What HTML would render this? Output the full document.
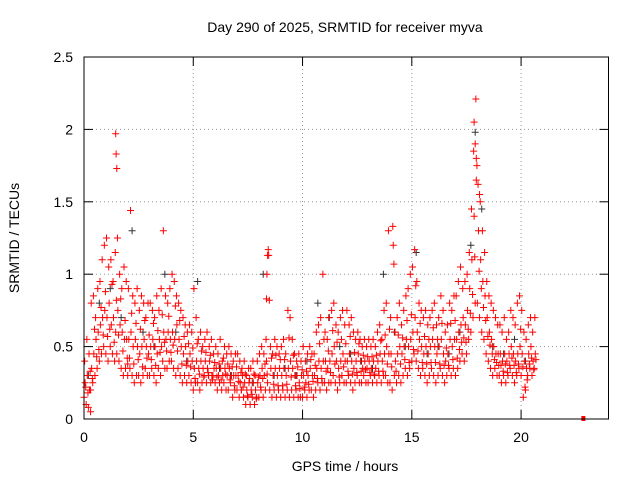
<!DOCTYPE html>
<html><head><meta charset="utf-8">
<style>
body{margin:0;background:#fff;}
svg{display:block;font-family:"Liberation Sans",sans-serif;}
</style></head>
<body>
<svg id="chart" width="640" height="480" viewBox="0 0 640 480">
<rect width="640" height="480" fill="#fff"/>
<text x="345" y="32" font-size="14" text-anchor="middle">Day 290 of 2025, SRMTID for receiver myva</text>
<text x="345" y="471" font-size="14" text-anchor="middle">GPS time / hours</text>
<text transform="translate(19,238) rotate(-90)" font-size="14" text-anchor="middle">SRMTID / TECUs</text>
<g id="grid"></g>
<g id="marks"></g>
<rect x="84" y="57" width="524.5" height="362" fill="none" stroke="#000" stroke-width="1"/>
<g id="ticks"></g>
</svg>
<script>
const xTicks=[0,5,10,15,20];
const yTicks=[0,0.5,1,1.5,2,2.5];
const yTickLabels=["0","0.5","1","1.5","2","2.5"];
const slotStart=0, slotStep=0.1;
const lowVals=[.15,.10,.08,.20,.25,.30,.35,.40,.45,.50,
.45,.40,.50,.45,.40,.45,.40,.35,.30,.35,
.30,.35,.30,.25,.30,.30,.25,.30,.35,.30,
.30,.35,.30,.25,.35,.30,.40,.35,.35,.40,
.40,.35,.30,.35,.30,.25,.30,.25,.30,.25,
.20,.25,.25,.20,.25,.30,.25,.30,.25,.30,
.25,.20,.25,.20,.25,.20,.20,.25,.15,.20,
.20,.15,.20,.15,.10,.15,.10,.15,.10,.15,
.15,.20,.15,.20,.25,.20,.15,.20,.15,.20,
.15,.20,.15,.20,.15,.20,.15,.20,.15,.15,
.15,.20,.15,.20,.20,.15,.20,.25,.20,.25,
.25,.20,.25,.25,.30,.25,.20,.25,.30,.25,
.25,.30,.25,.20,.25,.30,.25,.25,.30,.25,
.25,.30,.25,.30,.25,.30,.25,.30,.30,.25,
.25,.20,.30,.25,.30,.25,.30,.35,.30,.35,
.40,.45,.40,.35,.30,.35,.30,.25,.30,.35,
.30,.25,.30,.35,.30,.25,.30,.35,.30,.35,
.30,.35,.40,.45,.40,.45,.55,.60,.70,.80,
.80,.70,.60,.55,.45,.40,.35,.30,.35,.30,
.30,.25,.30,.25,.30,.35,.30,.25,.30,.35,
.30,.15,.20,.30,.35,.30,.35];
const midVals=[.25,.30,.20,.35,.45,.55,.60,.65,.70,.75,
.70,.80,.65,.70,.60,.75,.65,.60,.55,.55,
.55,.60,.50,.55,.50,.45,.50,.55,.50,.45,
.50,.55,.50,.45,.55,.50,.60,.55,.60,.55,
.60,.55,.65,.55,.50,.45,.50,.40,.45,.40,
.35,.40,.35,.40,.35,.40,.35,.40,.30,.35,
.35,.30,.35,.30,.35,.30,.35,.30,.30,.30,
.30,.25,.30,.25,.20,.25,.20,.25,.20,.25,
.30,.35,.30,.40,1.13,.35,.30,.35,.30,.35,
.30,.35,.30,.35,.40,.35,.30,.30,.25,.30,
.30,.25,.30,.35,.30,.30,.35,.40,.35,.40,
.40,.35,.40,.45,.50,.40,.35,.40,.45,.40,
.40,.45,.40,.35,.40,.45,.40,.35,.40,.35,
.40,.35,.40,.35,.40,.45,.40,.45,.50,.45,
.45,1.20,.40,.45,.50,.45,.50,.55,.50,.55,
.60,.70,.60,.55,.50,.45,.50,.45,.50,.55,
.50,.45,.50,.55,.45,.40,.45,.55,.50,.55,
.55,.60,.65,.70,.65,.75,.90,1.10,1.40,1.65,
1.30,1.10,.95,.85,.70,.60,.55,.50,.45,.45,
.45,.40,.45,.40,.45,.50,.45,.40,.45,.50,
.45,.40,.35,.45,.50,.40,.45];
const highVals=[.40,.55,.45,.80,.85,.70,.90,.95,1.10,1.20,
1.25,1.05,1.10,.95,1.15,1.25,1.00,.90,1.05,.95,
.90,1.44,.85,.80,.90,.75,.85,.80,.70,.80,
.80,.75,.70,.85,.75,.90,1.30,.85,.80,.90,
1.00,.95,.85,.80,.75,.70,.65,.60,.65,.60,
.90,.70,.55,.60,.50,.55,.60,.50,.55,.45,
.50,.45,.55,.40,.50,.45,.50,.45,.40,.45,
.45,.40,.35,.40,.30,.35,.35,.40,.30,.40,
.45,.50,.45,.55,1.17,.50,.45,.55,.50,.45,
.50,.55,.45,.75,.70,.55,.45,.40,.45,.40,
.50,.40,.45,.50,.45,.45,.60,.65,.70,1.00,
.60,.55,.70,.75,.80,.65,.60,.70,.75,.65,
.75,.65,.70,.60,.55,.60,.55,.50,.55,.50,
.55,.50,.55,.50,.60,.65,.55,.75,.80,1.30,
.70,1.33,.60,.70,.80,.65,.75,.85,.90,1.00,
1.05,1.17,.95,.80,.75,.70,.75,.65,.70,.75,
.80,.65,.70,.85,.75,.60,.65,.80,.75,.85,
.85,.95,1.05,.90,.95,1.00,1.15,1.45,1.85,2.21,
1.62,1.50,1.30,1.15,.95,.85,.80,.75,.70,.65,
.65,.60,.70,.55,.60,.75,.70,.65,.80,.85,
.75,.60,.55,.65,.70,.60,.70];
const extraVals=[.22,.18,.33,.28,.62,.43,.48,.77,.58,.88,
.57,.62,.93,.53,.82,.58,.83,.47,.68,.42,
.42,.73,.38,.66,.41,.62,.36,.68,.42,.58,
.41,.66,.37,.61,.46,.72,.53,.47,.71,.46,
.51,.78,.47,.68,.38,.57,.37,.52,.36,.49,
.28,.52,.31,.47,.29,.46,.32,.44,.27,.39,
.29,.38,.27,.42,.31,.38,.27,.36,.23,.36,
.26,.32,.22,.31,.16,.28,.17,.31,.14,.29,
.22,.28,.38,.31,.82,.42,.24,.44,.23,.41,
.23,.41,.24,.56,.29,.44,.23,.36,.21,.34,
.22,.33,.24,.41,.26,.37,.28,.52,.28,.55,
.33,.47,.32,.61,.38,.53,.29,.55,.36,.52,
.33,.57,.31,.46,.32,.52,.33,.44,.34,.43,
.32,.43,.31,.44,.33,.54,.33,.58,.38,.62,
.36,1.07,.33,.58,.38,.56,.41,.68,.39,.72,
.48,.92,.47,.66,.39,.57,.38,.55,.39,.63,
.39,.55,.38,.66,.37,.49,.37,.66,.41,.68,
.42,.48,.53,.56,.53,.62,.73,.86,1.12,1.75,
1.02,.90,.77,.68,.57,.51,.45,.41,.39,.37,
.37,.33,.38,.32,.37,.42,.37,.32,.38,.62,
.36,.22,.27,.38,.42,.34,.41];
const spikeTimes=[1.45,1.47,1.5,8.35,8.37,8.4,17.85,17.9,17.95,18.1,0.3,2.0];
const spikeVals=[1.97,1.83,1.73,0.83,1.0,1.13,2.05,1.9,1.8,1.55,0.05,0.38];
const blackTimes=[0.2,0.7,1.2,1.7,2.2,2.7,3.2,3.7,4.2,4.7,5.2,5.7,6.2,6.7,7.2,7.7,8.2,8.7,9.2,9.7,10.2,10.7,11.2,11.7,12.2,12.7,13.2,13.7,14.2,14.7,15.2,15.7,16.2,16.7,17.2,17.7,17.9,18.2,18.7,19.2,19.7,20.2];
const blackVals=[0.3,0.8,0.9,0.7,1.3,0.6,0.5,1.0,0.6,0.4,0.95,0.3,0.35,0.3,0.2,0.25,1.0,0.3,0.35,0.3,0.4,0.8,0.7,0.5,0.45,0.4,0.35,1.0,0.6,0.5,1.15,0.45,0.5,0.45,0.6,1.2,1.98,1.45,0.5,0.45,0.55,0.4];
const outlierTime=[22.85], outlierVal=[0];

const X=h=>84+h*(524.5/24);
const Y=v=>419-v*(362/2.5);
const NS="http://www.w3.org/2000/svg";
const grid=document.getElementById('grid'), ticks=document.getElementById('ticks'), marks=document.getElementById('marks');
function line(p,x1,y1,x2,y2,st,dash){const l=document.createElementNS(NS,'line');l.setAttribute('x1',x1);l.setAttribute('y1',y1);l.setAttribute('x2',x2);l.setAttribute('y2',y2);l.setAttribute('stroke',st);if(dash)l.setAttribute('stroke-dasharray',dash);p.appendChild(l);return l;}
function txt(p,x,y,s,anchor){const t=document.createElementNS(NS,'text');t.setAttribute('x',x);t.setAttribute('y',y);t.setAttribute('font-size','14');t.setAttribute('text-anchor',anchor);t.textContent=s;p.appendChild(t);return t;}
xTicks.forEach(v=>{const x=X(v);
 const g=line(grid,x,57,x,419,'#999','1,3');
 
 
 line(ticks,x,419,x,410,'#000');line(ticks,x,57,x,66,'#000');
 const t=txt(ticks,x,442,String(v),'middle');
 
 
});
yTicks.forEach((v,i)=>{const y=Y(v);
 const g=line(grid,84,y,608.5,y,'#999','1,3');
 
 
 line(ticks,84,y,93,y,'#000');line(ticks,608.5,y,599.5,y,'#000');
 const t=txt(ticks,73,y+5,yTickLabels[i],'end');
 
 
});
function plus(h,v,c){const x=X(h),y=Y(v);
 const p=document.createElementNS(NS,'path');
 p.setAttribute('d',`M${x-3.5},${y}H${x+3.5}M${x},${y-3.5}V${y+3.5}`);
 p.setAttribute('stroke',c);p.setAttribute('stroke-width','1');
 
 
 marks.appendChild(p);}
blackTimes.forEach((t,i)=>plus(t,blackVals[i],'#333'));
lowVals.forEach((v,i)=>plus(slotStart+i*slotStep,v,'#f00'));
midVals.forEach((v,i)=>plus(slotStart+i*slotStep+0.05,v,'#f00'));
highVals.forEach((v,i)=>plus(slotStart+i*slotStep+0.03,v,'#f00'));
extraVals.forEach((v,i)=>plus(slotStart+i*slotStep+0.08,v,'#f00'));
spikeTimes.forEach((t,i)=>plus(t,spikeVals[i],'#f00'));
outlierTime.forEach((t,i)=>{const r=document.createElementNS(NS,'rect');
 r.setAttribute('x',X(t)-2);r.setAttribute('y',Y(outlierVal[i])-3);r.setAttribute('width',4);r.setAttribute('height',5);r.setAttribute('fill','#f00');
 
 
 marks.appendChild(r);});
</script>
</body></html>
